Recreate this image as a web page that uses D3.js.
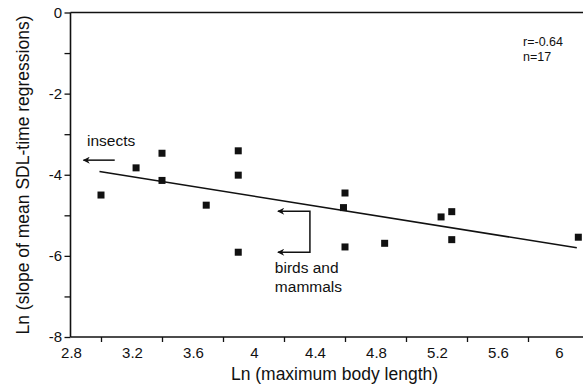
<!doctype html>
<html lang="en">
<head>
<meta charset="utf-8">
<title>SDL slope vs body length</title>
<script src="https://d3js.org/d3.v7.min.js"></script>
<style type="text/css">
  body { margin:0; background:#fff; }
  text { font-family: "Liberation Sans", Arial, Helvetica, sans-serif; fill:#111; }
  .axisline { stroke:#111; stroke-width:1.6; fill:none; }
  .tick line { stroke:#111; stroke-width:1.3; }
  .fit { stroke:#111; stroke-width:1.6; fill:none; }
  .arrow { stroke:#111; stroke-width:1.5; fill:none; }
</style>
</head>
<body>
<script type="text/javascript">

  // data
  var lnLength = [3.00, 3.23, 3.40, 3.40, 3.69, 3.90, 3.90, 3.90, 4.60, 4.59, 4.60, 4.86, 5.23, 5.30, 5.30, 6.13];
  var lnSlope  = [-4.50, -3.83, -3.47, -4.14, -4.75, -3.41, -4.01, -5.91, -4.45, -4.81, -5.78, -5.69, -5.04, -4.91, -5.60, -5.54];
  var fitX = [2.99, 6.12];
  var fitY = [-3.92, -5.80];
  var xTickLabels = [2.8, 3.2, 3.6, 4.0, 4.4, 4.8, 5.2, 5.6, 6.0];
  var xMinorTicks = [3.0, 3.4, 3.8, 4.2, 4.6, 5.0, 5.4, 5.8];
  var yTickLabels = [0, -2, -4, -6, -8];
  var yMinorTicks = [-1, -3, -5, -7];
  var stats = ["r=-0.64", "n=17"];

  var W = 583, H = 385;
  var mLeft = 70.5, mTop = 12.5, mBottom = 337;

  var x = d3.scaleLinear().domain([2.8, 6.2]).range([mLeft, mLeft + 3.4 * 152.5]);
  var y = d3.scaleLinear().domain([-8, 0]).range([mBottom, mTop]);

  var svg = d3.select("body").append("svg")
    .attr("width", W).attr("height", H);

  // frame: left axis, top line, bottom axis
  svg.append("line").attr("class", "axisline")
    .attr("x1", mLeft).attr("x2", mLeft).attr("y1", mTop).attr("y2", mBottom);
  svg.append("line").attr("class", "axisline")
    .attr("x1", mLeft).attr("x2", W).attr("y1", mTop).attr("y2", mTop);
  svg.append("line").attr("class", "axisline")
    .attr("x1", mLeft).attr("x2", W).attr("y1", mBottom).attr("y2", mBottom);

  // x axis: labels at even steps, ticks at the odd ones
  var xAxis = svg.append("g")
    .attr("transform", "translate(0," + mBottom + ")")
    .call(d3.axisBottom(x).tickValues(xMinorTicks).tickSize(5).tickFormat(""));
  xAxis.select(".domain").remove();

  svg.selectAll(".xlab").data(xTickLabels).enter().append("text")
    .attr("class", "xlab")
    .attr("x", d => x(d) + 1)
    .attr("y", 358)
    .attr("text-anchor", "middle")
    .style("font-size", "15px")
    .text(d => d3.format("~g")(d));

  // y axis
  var yAxis = svg.append("g")
    .attr("transform", "translate(" + mLeft + ",0)")
    .call(d3.axisLeft(y).tickValues(yMinorTicks.concat(yTickLabels)).tickSize(6).tickFormat(""));
  yAxis.select(".domain").remove();

  svg.selectAll(".ylab").data(yTickLabels).enter().append("text")
    .attr("class", "ylab")
    .attr("x", 62)
    .attr("y", d => y(d) + 5)
    .attr("text-anchor", "end")
    .style("font-size", "15px")
    .text(d => d);

  // axis titles
  svg.append("text")
    .attr("x", 334.5).attr("y", 380)
    .attr("text-anchor", "middle")
    .style("font-size", "17.5px")
    .text("Ln (maximum body length)");

  svg.append("text")
    .attr("transform", "translate(29," + 175 + ") rotate(-90)")
    .attr("text-anchor", "middle")
    .style("font-size", "17.5px")
    .text("Ln (slope of mean SDL-time  regressions)");

  // regression line
  var line = d3.line().x(d => x(d[0])).y(d => y(d[1]));
  svg.append("path").attr("class", "fit")
    .attr("d", line(d3.zip(fitX, fitY)));

  // points
  var s = 7;
  svg.selectAll(".pt").data(d3.zip(lnLength, lnSlope)).enter().append("rect")
    .attr("class", "pt")
    .attr("x", d => x(d[0]) - s / 2)
    .attr("y", d => y(d[1]) - s / 2)
    .attr("width", s).attr("height", s)
    .style("fill", "#111");

  // stats
  svg.selectAll(".stat").data(stats).enter().append("text")
    .attr("class", "stat")
    .attr("x", 523)
    .attr("y", (d, i) => 46 + i * 14.5)
    .style("font-size", "12.5px")
    .text(d => d);

  // arrowhead, tip at the end of the path
  svg.append("defs").append("marker")
    .attr("id", "head")
    .attr("viewBox", "0 0 10 10")
    .attr("refX", 9).attr("refY", 5)
    .attr("markerWidth", 11).attr("markerHeight", 7)
    .attr("markerUnits", "userSpaceOnUse")
    .attr("orient", "auto-start-reverse")
    .append("path").attr("d", "M10,5 L0,0 L3,5 L0,10 Z").style("fill", "#111");

  // insects annotation
  svg.append("text")
    .attr("x", x(2.908)).attr("y", y(-3.30))
    .style("font-size", "15.5px")
    .text("insects");
  svg.append("line").attr("class", "arrow")
    .attr("x1", x(3.09)).attr("y1", y(-3.64))
    .attr("x2", x(2.885)).attr("y2", y(-3.64))
    .attr("marker-end", "url(#head)");

  // birds and mammals annotation
  svg.append("path").attr("class", "arrow")
    .attr("d", "M" + x(4.16) + "," + y(-4.90) + " H" + x(4.37) + " V" + y(-5.91) + " H" + x(4.16))
    .attr("marker-start", "url(#head)")
    .attr("marker-end", "url(#head)");
  svg.append("text")
    .attr("x", x(4.14)).attr("y", y(-6.43))
    .style("font-size", "15.5px")
    .text("birds and");
  svg.append("text")
    .attr("x", x(4.14)).attr("y", y(-6.90))
    .style("font-size", "15.5px")
    .text("mammals");

</script>
</body>
</html>
